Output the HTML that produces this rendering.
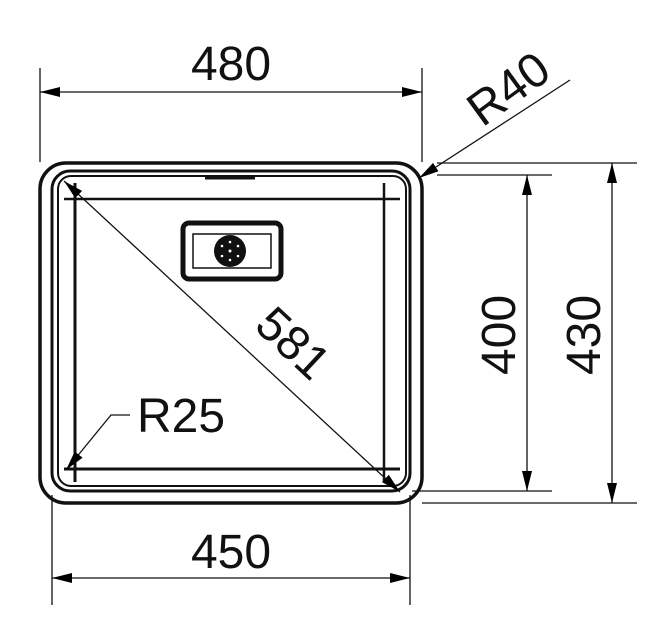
<!DOCTYPE html>
<html><head><meta charset="utf-8"><style>
html,body{margin:0;padding:0;background:#fff;}
svg{display:block;}
text{font-family:"Liberation Sans",sans-serif;fill:#111;}
</style></head><body>
<svg width="667" height="640" viewBox="0 0 667 640" xmlns="http://www.w3.org/2000/svg">
<defs>
<marker id="a" viewBox="0 0 20 10" refX="20" refY="5" markerWidth="20" markerHeight="10" markerUnits="userSpaceOnUse" orient="auto-start-reverse"><path d="M0,0 L20,5 L0,10 z" fill="#000"/></marker>
</defs>
<g fill="none" stroke="#111">
<rect x="40" y="163" width="382" height="340" rx="26" stroke-width="3.5"/>
<rect x="52" y="171" width="358" height="320" rx="18" stroke-width="3"/>
<rect x="58" y="176" width="348" height="310" rx="13" stroke-width="2"/>
<line x1="75" y1="183" x2="75" y2="482" stroke-width="3"/>
<line x1="384" y1="183" x2="384" y2="482" stroke-width="2.5"/>
<line x1="64" y1="199" x2="400" y2="199" stroke-width="2.5"/>
<line x1="64" y1="469" x2="400" y2="469" stroke-width="3"/>
<line x1="205" y1="178" x2="255" y2="178" stroke-width="3"/>
<rect x="183" y="223" width="98" height="56" rx="6" stroke-width="5"/>
<rect x="193" y="234" width="78" height="34" stroke-width="1.5"/>
<circle cx="230" cy="251" r="16" fill="#111" stroke="none"/>
<g fill="#fff" stroke="none"><circle cx="230" cy="251" r="1.5"/><circle cx="222" cy="246" r="1.3"/><circle cx="238" cy="246" r="1.3"/><circle cx="222" cy="256" r="1.3"/><circle cx="238" cy="256" r="1.3"/><circle cx="230" cy="242" r="1.3"/><circle cx="230" cy="260" r="1.3"/></g>
<line x1="64" y1="181" x2="400" y2="492" stroke-width="1.3" marker-start="url(#a)" marker-end="url(#a)"/>
<polyline points="130,415 111,415 66,470" stroke-width="1.3" marker-end="url(#a)"/>
<line x1="40" y1="68" x2="40" y2="162" stroke-width="1.3"/>
<line x1="422" y1="68" x2="422" y2="162" stroke-width="1.3"/>
<line x1="40" y1="92" x2="422" y2="92" stroke-width="1.3" marker-start="url(#a)" marker-end="url(#a)"/>
<line x1="570" y1="80" x2="419" y2="178" stroke-width="1.3" marker-end="url(#a)"/>
<line x1="437" y1="175" x2="552" y2="175" stroke-width="1.3"/>
<line x1="412" y1="491" x2="552" y2="491" stroke-width="1.3"/>
<line x1="527" y1="175" x2="527" y2="491" stroke-width="1.3" marker-start="url(#a)" marker-end="url(#a)"/>
<line x1="437" y1="163" x2="637" y2="163" stroke-width="1.3"/>
<line x1="422" y1="503" x2="637" y2="503" stroke-width="1.3"/>
<line x1="612" y1="163" x2="612" y2="503" stroke-width="1.3" marker-start="url(#a)" marker-end="url(#a)"/>
<line x1="52" y1="495" x2="52" y2="605" stroke-width="1.3"/>
<line x1="410" y1="495" x2="410" y2="605" stroke-width="1.3"/>
<line x1="52" y1="578" x2="410" y2="578" stroke-width="1.3" marker-start="url(#a)" marker-end="url(#a)"/>
</g>
<text x="231" y="80" font-size="48" text-anchor="middle">480</text>
<text x="231" y="568" font-size="48" text-anchor="middle">450</text>
<text x="137" y="432" font-size="48">R25</text>
<text transform="translate(518,102) rotate(-36)" font-size="48" text-anchor="middle">R40</text>
<text transform="translate(282,355) rotate(43)" font-size="48" text-anchor="middle">581</text>
<text transform="translate(515,335) rotate(-90)" font-size="48" text-anchor="middle">400</text>
<text transform="translate(600,335) rotate(-90)" font-size="48" text-anchor="middle">430</text>
</svg>
</body></html>
